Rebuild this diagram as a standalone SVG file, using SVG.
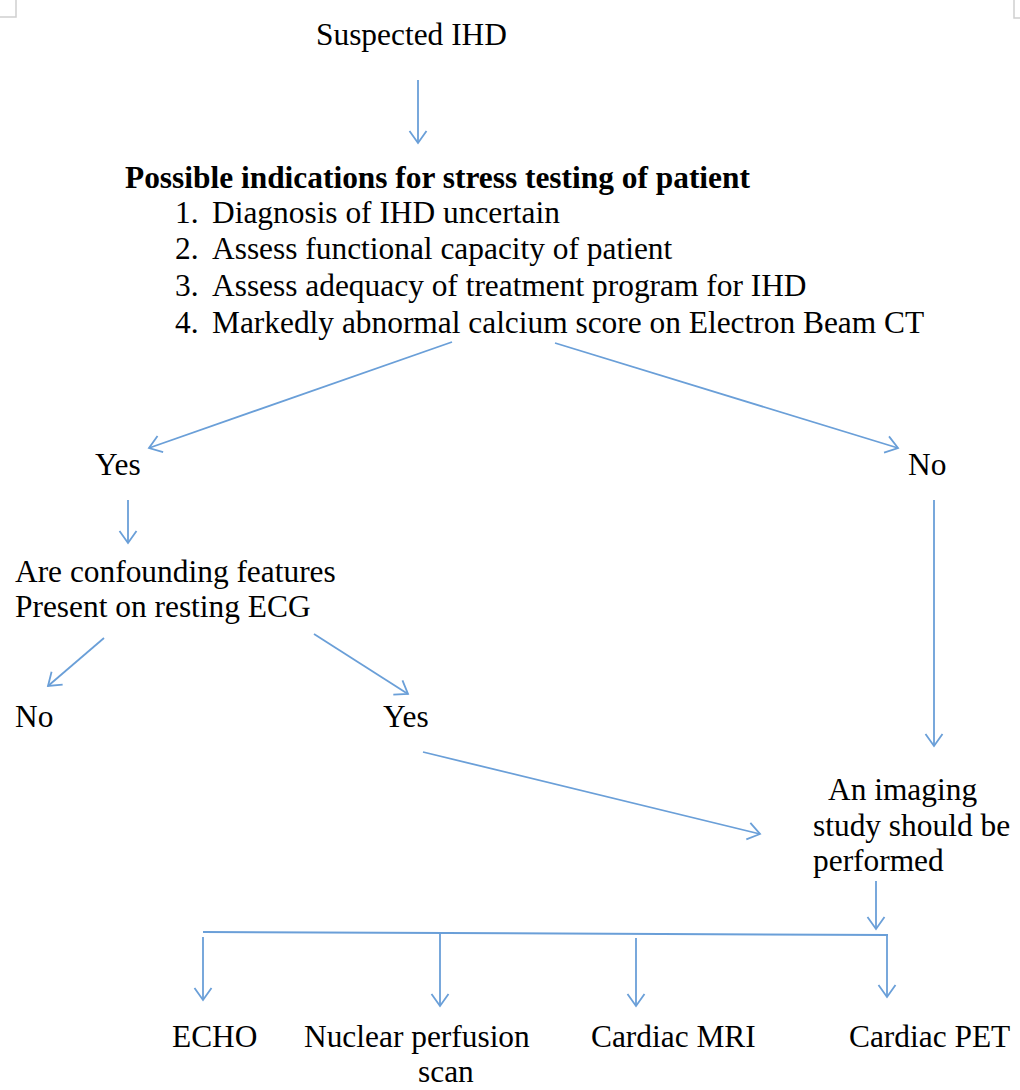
<svg xmlns="http://www.w3.org/2000/svg" width="1020" height="1090" viewBox="0 0 1020 1090">
  <style>
    text { font-family: "Liberation Serif", "Times New Roman", serif; font-size: 31.4px; fill: #000; }
    .b { font-weight: bold; }
    .c { fill: none; stroke: #6a9fd8; stroke-width: 1.8; marker-end: url(#v); }
    .plain { fill: none; stroke: #6a9fd8; stroke-width: 2; }
    .crop { fill: none; stroke: #d0d0d0; stroke-width: 1.5; }
  </style>
  <defs>
    <marker id="v" markerUnits="userSpaceOnUse" markerWidth="24" markerHeight="24" refX="12" refY="12" orient="auto" overflow="visible">
      <path d="M0,3.5 L12,12 L0,20.5" fill="none" stroke="#6a9fd8" stroke-width="1.8"/>
    </marker>
  </defs>
  <rect width="1020" height="1090" fill="#fff"/>

  <!-- page corner marks -->
  <path class="crop" d="M16,0 V17 H0"/>
  <path class="crop" d="M1014,0 V18 H1020"/>

  <g id="start"><text x="316" y="45">Suspected IHD</text></g>

  <g id="indications">
    <text class="b" x="125" y="188">Possible indications for stress testing of patient</text>
    <text x="175" y="223">1.</text><text x="212" y="223">Diagnosis of IHD uncertain</text>
    <text x="175" y="259">2.</text><text x="212" y="259">Assess functional capacity of patient</text>
    <text x="175" y="296">3.</text><text x="212" y="296">Assess adequacy of treatment program for IHD</text>
    <text x="175" y="333">4.</text><text x="212" y="333">Markedly abnormal calcium score on Electron Beam CT</text>
  </g>

  <g id="yes1"><text x="95" y="475">Yes</text></g>
  <g id="no1"><text x="908" y="475">No</text></g>

  <g id="confounding">
    <text x="15" y="582">Are confounding features</text>
    <text x="15" y="617">Present on resting ECG</text>
  </g>

  <g id="no2"><text x="15" y="727">No</text></g>
  <g id="yes2"><text x="383" y="727">Yes</text></g>

  <g id="imaging">
    <text x="828" y="800">An imaging</text>
    <text x="813" y="836">study should be</text>
    <text x="813" y="871">performed</text>
  </g>

  <g id="echo"><text x="172" y="1047">ECHO</text></g>
  <g id="nuclear">
    <text x="304" y="1047">Nuclear perfusion</text>
    <text x="418" y="1082">scan</text>
  </g>
  <g id="mri"><text x="591" y="1047">Cardiac MRI</text></g>
  <g id="pet"><text x="849" y="1047">Cardiac PET</text></g>

  <g id="connectors">
    <line class="c" x1="418" y1="80" x2="418" y2="143"/>
    <line class="c" x1="452" y1="342" x2="149" y2="448"/>
    <line class="c" x1="555" y1="343" x2="898" y2="448"/>
    <line class="c" x1="128" y1="500" x2="128" y2="543"/>
    <line class="c" x1="104" y1="638" x2="48" y2="686"/>
    <line class="c" x1="314" y1="634" x2="408" y2="694"/>
    <line class="c" x1="423" y1="752" x2="760" y2="834"/>
    <line class="c" x1="934" y1="500" x2="934" y2="746"/>
    <line class="c" x1="876" y1="881" x2="876" y2="929"/>
    <line class="plain" x1="203" y1="932" x2="888" y2="935"/>
    <line class="c" x1="203" y1="937" x2="203" y2="1000"/>
    <line class="c" x1="440" y1="933" x2="440" y2="1006"/>
    <line class="c" x1="636" y1="938" x2="636" y2="1006"/>
    <line class="c" x1="887" y1="935" x2="887" y2="997"/>
  </g>
</svg>
